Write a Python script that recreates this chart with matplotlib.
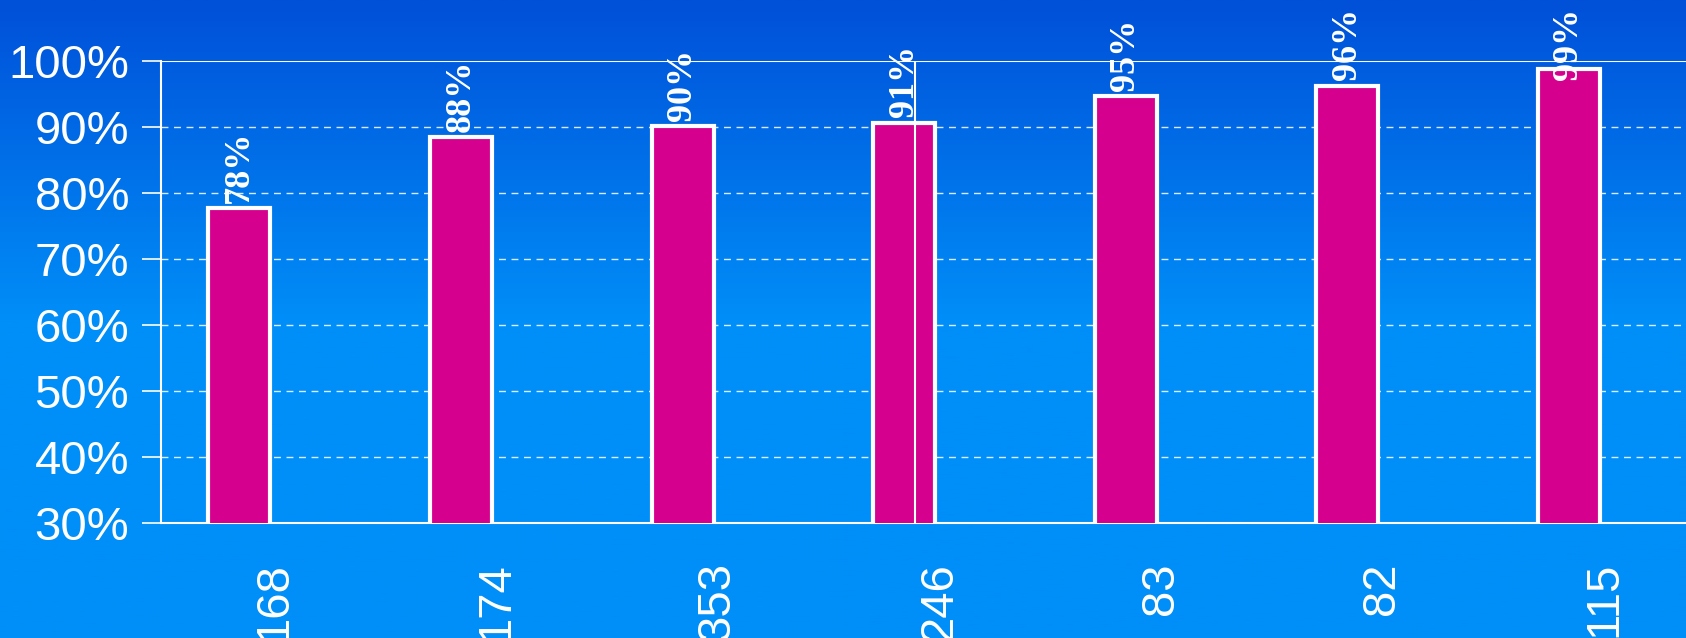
import matplotlib.pyplot as plt
import matplotlib.transforms as mtransforms
import numpy as np
from matplotlib.colors import LinearSegmentedColormap

counts = ['168', '174', '353', '246', '83', '82', '115']
shares = [0.777, 0.885, 0.902, 0.907, 0.947, 0.963, 0.989]
share_labels = ['78%', '88%', '90%', '91%', '95%', '96%', '99%']
yticks = [0.3, 0.4, 0.5, 0.6, 0.7, 0.8, 0.9, 1.0]

fig = plt.figure(figsize=(16.86, 6.38), dpi=100)

# blue gradient background
bg = fig.add_axes([0, 0, 1, 1], zorder=0)
cmap = LinearSegmentedColormap.from_list('bg', ['#008ef8', '#008ef8', '#0050d8'])
grad = np.linspace(0, 1, 256).reshape(-1, 1)
bg.imshow(grad, aspect='auto', cmap=cmap, origin='lower', extent=[0, 1, 0, 1])
bg.axis('off')

ax = fig.add_axes([0.0955, 0.18, 0.91, 0.724], zorder=1)
ax.patch.set_alpha(0)
x = np.arange(len(counts))
ax.bar(x, shares, width=0.28, bottom=0, color='#d6008f', edgecolor='white',
       linewidth=3, zorder=3)
for xi, v, lab in zip(x, shares, share_labels):
    # keep the label inside the picture
    ax.text(xi, min(v + 0.008, 0.972), lab, rotation=90, ha='center', va='bottom',
            color='white', fontsize=26, fontweight='bold',
            family='Liberation Serif', zorder=4)

ax.axvline(3.05, color='white', lw=1.5, zorder=4)
ax.set_ylim(0.3, 1.0)
ax.set_xlim(-0.354, 6.57)
ax.set_yticks(yticks)
ax.set_yticklabels(['%d%%' % round(t * 100) for t in yticks])
for t in yticks[1:-1]:
    ax.axhline(t, color='white', lw=1, ls=(0, (5, 4)), alpha=0.85, zorder=1)
ax.axhline(1.0, color='white', lw=1.5, zorder=1)

ax.set_xticks(x)
ax.set_xticklabels(counts, rotation=90)
ax.tick_params(axis='x', length=0, pad=28, labelsize=34, colors='white')
ax.tick_params(axis='y', length=14, width=1.2, pad=9, labelsize=34,
               colors='white')
shift = mtransforms.ScaledTranslation(0.35, 0, fig.dpi_scale_trans)
for lab in ax.get_xticklabels():
    lab.set_transform(lab.get_transform() + shift)
for lab in ax.get_xticklabels() + ax.get_yticklabels():
    lab.set_family('Liberation Sans')
for s in ['top', 'right']:
    ax.spines[s].set_visible(False)
ax.spines['left'].set_color('white')
ax.spines['bottom'].set_color('white')
ax.spines['left'].set_linewidth(1.5)
ax.spines['bottom'].set_linewidth(1.5)

fig.savefig('out.png', dpi=100)
